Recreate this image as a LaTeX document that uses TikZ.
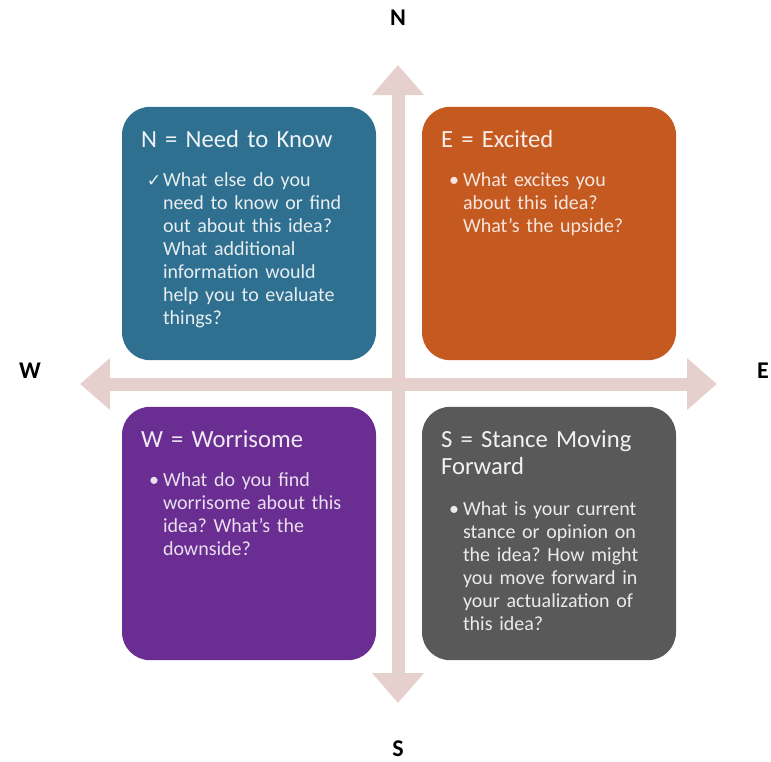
\documentclass[tikz,border=0pt]{standalone}
\usepackage{fontspec}
\setmainfont{Carlito}
\newfontfamily\symbfont{DejaVu Sans}
\frenchspacing
\usetikzlibrary{
  arrows.meta,
  calc,
  positioning
}

\definecolor{needcol}{RGB}{47,111,143}
\definecolor{excitedcol}{RGB}{197,90,33}
\definecolor{worrycol}{RGB}{106,45,145}
\definecolor{stancecol}{RGB}{89,89,89}
\definecolor{axiscol}{RGB}{229,208,206}

\tikzset{
  quad/.style = {rounded corners=21pt, minimum width=190.5pt, minimum height=190pt, inner sep=0pt, fill=#1},
  head/.style = {inner sep=0pt, text width=180pt, align=left, font=\fontsize{18.5}{20.25}\selectfont},
  body/.style = {inner sep=0pt, text width=170pt, align=left, font=\fontsize{15}{17.25}\selectfont},
  marker/.style = {inner sep=0pt, font=\fontsize{15}{17.25}\selectfont},
  compass/.style = {inner sep=0pt, font=\fontsize{18}{20}\selectfont\bfseries},
  axis/.style = {draw=axiscol, line width=9.75pt, {Triangle[width=37.5pt,length=22.5pt]}-{Triangle[width=37.5pt,length=22.5pt]}}
}

\begin{document}
\begin{tikzpicture}[x=0.75pt, y=-0.75pt]
    \useasboundingbox (0,0) rectangle (771,761);

    \coordinate (ntip) at (398,65);
    \coordinate (stip) at (398,703);
    \coordinate (wtip) at (80,384);
    \coordinate (etip) at (717,384);
    \draw[axis] (wtip) -- (etip);
    \draw[axis] (ntip) -- (stip);

    \node[compass] (N) at (398,18) {N};
    \node[compass] (S) at (398,749) {S};
    \node[compass] (W) at (30,371) {W};
    \node[compass] (E) at (763,371) {E};

    \node[quad=needcol] (need) at (249,233.5) {};
    \node[quad=excitedcol] (excited) at (549,233.5) {};
    \node[quad=worrycol] (worry) at (249,533.5) {};
    \node[quad=stancecol] (stance) at (549,533.5) {};

    \node[head, text=white!92!needcol, anchor=base west] (needhead) at ($(need.north west)+(19,41)$) {N = Need to Know};
    \node[body, text=white!88!needcol, anchor=base west] (needtext) at ($(needhead.base west)+(22,39)$)
      {What else do you\\need to know or find\\out about this idea?\\What additional\\information would\\help you to evaluate\\things?};
    \node[marker, text=white!88!needcol, anchor=base east] (needmark) at ($(needtext.base west)+(-1,0)$) {\symbfont\fontsize{13}{14}\selectfont ✓};

    \node[head, text=white!90!excitedcol, anchor=base west] (excitedhead) at ($(excited.north west)+(19,41)$) {E = Excited};
    \node[body, text=white!85!excitedcol, anchor=base west] (excitedtext) at ($(excitedhead.base west)+(22,39)$)
      {What excites you\\about this idea?\\What’s the upside?};
    \node[marker, text=white!85!excitedcol, anchor=base west] (excitedmark) at ($(excitedtext.base west)+(-14,0)$) {•};

    \node[head, text=white!90!worrycol, anchor=base west] (worryhead) at ($(worry.north west)+(19,41)$) {W = Worrisome};
    \node[body, text=white!85!worrycol, anchor=base west] (worrytext) at ($(worryhead.base west)+(22,39)$)
      {What do you find\\worrisome about this\\idea? What’s the\\downside?};
    \node[marker, text=white!85!worrycol, anchor=base west] (worrymark) at ($(worrytext.base west)+(-14,0)$) {•};

    \node[head, text=white!92!stancecol, anchor=base west] (stancehead) at ($(stance.north west)+(19,41)$) {S = Stance Moving\\Forward};
    \node[body, text=white!88!stancecol, anchor=base west] (stancetext) at ($(stancehead.base west)+(22,68)$)
      {What is your current\\stance or opinion on\\the idea? How might\\you move forward in\\your actualization of\\this idea?};
    \node[marker, text=white!88!stancecol, anchor=base west] (stancemark) at ($(stancetext.base west)+(-14,0)$) {•};
  \end{tikzpicture}
\end{document}
